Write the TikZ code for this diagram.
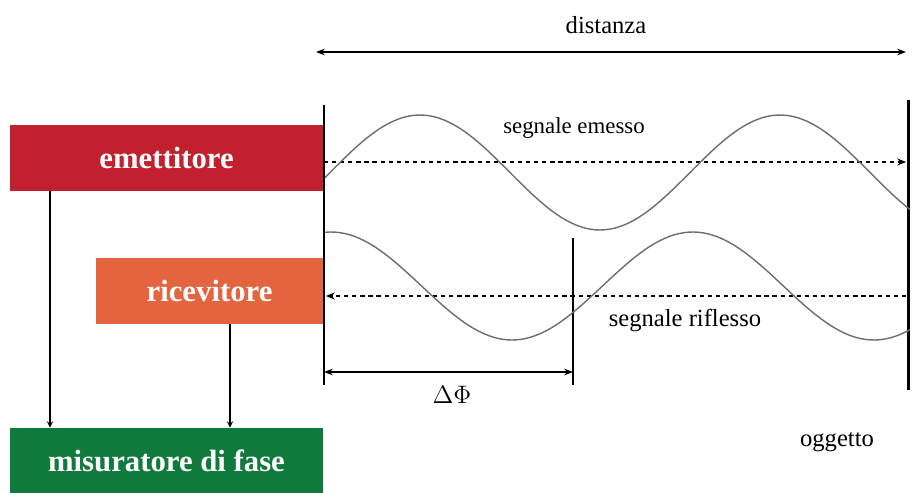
\documentclass[tikz,border=0pt]{standalone}
\usepackage{fontspec}
\setmainfont{Liberation Serif}
\usepackage{tikz}
\usetikzlibrary{arrows.meta, calc, positioning}

\definecolor{emred}{HTML}{C3202F}
\definecolor{ricorange}{HTML}{E3643F}
\definecolor{misgreen}{HTML}{107A3D}
\definecolor{wavegray}{HTML}{6E6E6E}

\tikzset{
  blocco/.style={rectangle, text=white, font=\fontsize{17.5}{20}\selectfont\bfseries, inner sep=0pt},
  etichetta/.style={font=\fontsize{14}{16}\selectfont, text=black},
  onda/.style={wavegray, line width=0.8pt},
  tratteggio/.style={line width=0.6pt, dash pattern=on 2.4pt off 2.2pt},
}

\begin{document}
\begin{tikzpicture}[x=0.02cm, y=-0.02cm]
        \useasboundingbox[fill=white] (0,0) rectangle (912,493);
        % blocchi a sinistra
        \node[blocco, fill=emred, minimum width=6.26cm, minimum height=1.32cm] (emettitore) at (166.5,158) {emettitore};
        \node[blocco, fill=ricorange, minimum width=4.54cm, minimum height=1.32cm] (ricevitore) at (209.5,291) {ricevitore};
        \node[blocco, fill=misgreen, minimum width=6.26cm, minimum height=1.30cm] (misuratore) at (166.5,460.5) {misuratore di fase};
        \coordinate (xa) at (50,0);
        \coordinate (xb) at (230,0);
        \draw[->,>=stealth,semithick] (emettitore.south -| xa)--(misuratore.north -| xa);
        \draw[->,>=stealth,semithick] (ricevitore.south -| xb)--(misuratore.north -| xb);
        % distanza
        \coordinate (dA) at (316,52);
        \coordinate (dB) at (906,52);
        \draw[{Stealth[length=5pt]}-{Stealth[length=5pt]},line width=0.9pt] (dA)--(dB);
        \node[etichetta] (distanza) at (606,25) {distanza};
        % linee verticali
        \draw[line width=0.8pt] (324,105)--(324,385); %sorgente
        \draw[line width=1.7pt] (908,100)--(908,390); %oggetto
        \draw[line width=0.8pt] (573,238)--(573,385); %fase
        % segnali tratteggiati
        \coordinate (eA) at (324,162);
        \coordinate (eB) at (906,162);
        \coordinate (rA) at (906,296);
        \coordinate (rB) at (326,296);
        \draw[tratteggio,-{Stealth[length=5pt,width=4pt]}] (eA)--(eB);
        \draw[tratteggio,-{Stealth[length=5pt,width=4pt]}] (rA)--(rB);
        % onde
        \draw[onda,domain=325:910,samples=120] plot(\x,{172.5-57.5*cos(\x-420)});
        \draw[onda,domain=325:910,samples=120] plot(\x,{286+54*cos(0.995*(\x-512))});
        \node[etichetta,font=\fontsize{13}{15}\selectfont] (emesso) at (574,128) {segnale emesso};
        \node[etichetta] (riflesso) at (685,320) {segnale riflesso};
        % differenza di fase
        \coordinate (fA) at (324,372);
        \coordinate (fB) at (573,372);
        \draw[{Stealth[length=5pt]}-{Stealth[length=5pt]},line width=0.9pt] (fA)--(fB);
        \node[etichetta] (dphi) at (452,395) {$\Delta\Phi$};
        \node[etichetta] (oggetto) at (837,442) {oggetto};
\end{tikzpicture}
\end{document}
